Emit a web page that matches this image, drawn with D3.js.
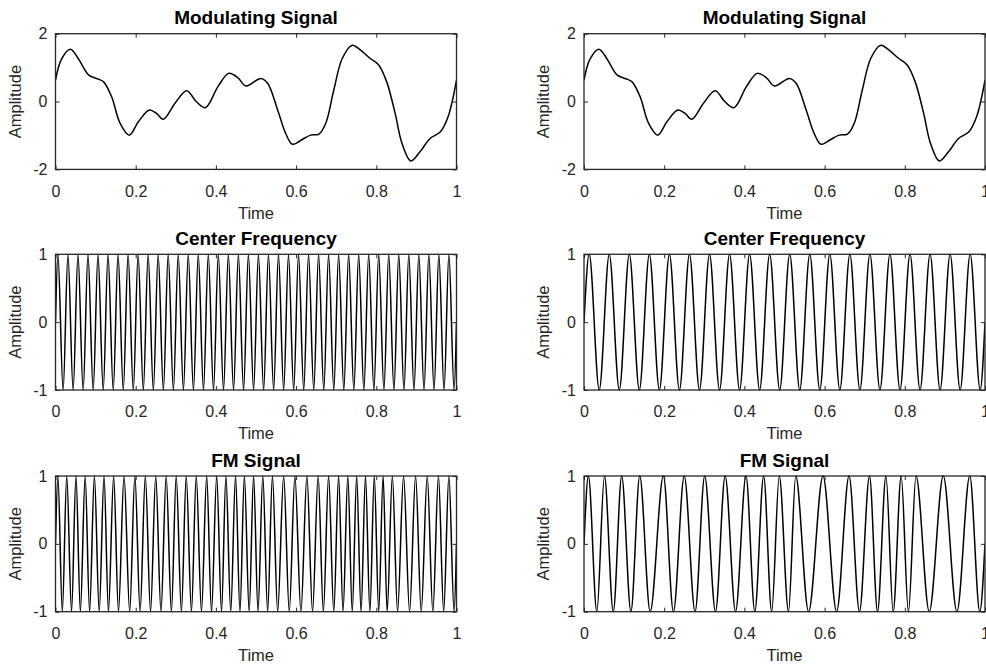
<!DOCTYPE html>
<html>
<head>
<meta charset="utf-8">
<script src="https://cdn.jsdelivr.net/npm/d3@7"></script>
<style>
  body { margin: 0; background: #fff; }
  svg { display: block; font-family: "Liberation Sans", Arial, sans-serif; }
</style>
</head>
<body>
<div id="chart"></div>
<script>
// modulating signal
const modTime = [0, 0.015, 0.037, 0.055, 0.066, 0.083, 0.107, 0.12, 0.14, 0.161, 0.184, 0.207, 0.234, 0.252, 0.269, 0.298, 0.327, 0.351, 0.374, 0.405, 0.432, 0.455, 0.475, 0.512, 0.529, 0.554, 0.574, 0.591, 0.612, 0.636, 0.657, 0.674, 0.694, 0.715, 0.74, 0.76, 0.785, 0.806, 0.826, 0.847, 0.864, 0.886, 0.909, 0.934, 0.96, 0.979, 1];
const modValue = [0.63, 1.25, 1.54, 1.3, 1.08, 0.78, 0.66, 0.58, 0.14, -0.64, -0.99, -0.59, -0.25, -0.35, -0.52, -0.05, 0.32, 0, -0.18, 0.44, 0.83, 0.7, 0.46, 0.68, 0.54, -0.25, -0.94, -1.26, -1.14, -0.99, -0.96, -0.64, 0.34, 1.27, 1.66, 1.52, 1.27, 1.08, 0.58, -0.35, -1.23, -1.75, -1.48, -1.09, -0.89, -0.45, 0.63];

// peak (+1) and trough (-1) times in ms
const carrierLeftPeaks = [6, 31, 56, 81, 106, 131, 156, 181, 206, 231, 256, 281, 306, 331, 356, 381, 406, 431, 456, 481, 506, 531, 556, 581, 606, 631, 656, 681, 706, 731, 756, 781, 806, 831, 856, 881, 906, 931, 956, 981];
const carrierLeftTroughs = [19, 44, 69, 94, 119, 144, 169, 194, 219, 244, 269, 294, 319, 344, 369, 394, 419, 444, 469, 494, 519, 544, 569, 594, 619, 644, 669, 694, 719, 744, 769, 794, 819, 844, 869, 894, 919, 944, 969, 994];

const carrierRightPeaks = [13, 63, 113, 163, 213, 263, 313, 363, 413, 463, 513, 563, 613, 663, 713, 763, 813, 863, 913, 963];
const carrierRightTroughs = [38, 88, 138, 188, 238, 288, 338, 388, 438, 488, 538, 588, 638, 688, 738, 788, 838, 888, 938, 988];

const fmLeftPeaks = [6, 28, 51, 74, 97, 121, 145, 171, 198, 224, 250, 276, 301, 326, 351, 377, 402, 425, 449, 471, 494, 517, 541, 569, 597, 627, 655, 681, 706, 729, 751, 773, 795, 817, 840, 868, 898, 927, 955, 981];
const fmLeftTroughs = [17, 40, 62, 85, 109, 132, 157, 185, 211, 237, 263, 289, 314, 339, 364, 389, 414, 437, 460, 483, 505, 529, 554, 583, 612, 641, 668, 694, 717, 740, 762, 784, 806, 827, 853, 883, 912, 941, 968, 994];

const fmRightPeaks = [11, 51, 94, 139, 198, 250, 301, 352, 404, 448, 487, 528, 596, 661, 712, 753, 791, 828, 896, 962];
const fmRightTroughs = [32, 73, 117, 165, 223, 277, 328, 378, 426, 468, 510, 560, 630, 687, 732, 771, 809, 861, 930, 987];

const xTicks = [0, 0.2, 0.4, 0.6, 0.8, 1];
const xTickLabels = ['0', '0.2', '0.4', '0.6', '0.8', '1'];
const modTicks = [-2, 0, 2];
const unitTicks = [-1, 0, 1];

const titles = ['Modulating Signal', 'Center Frequency', 'FM Signal'];

const w = 986;
const h = 668;

const svg = d3.select('#chart')
  .append('svg')
  .attr('width', w)
  .attr('height', h);

const toPoints = (peaks, troughs) => {
  const pts = [{ t: 0, v: 0 }];
  peaks.forEach(p => pts.push({ t: p / 1000, v: 1 }));
  troughs.forEach(p => pts.push({ t: p / 1000, v: -1 }));
  pts.push({ t: 1, v: 0 });
  return pts.sort((a, b) => a.t - b.t);
};

const modPoints = modTime.map((t, i) => ({ t, v: modValue[i] }));

const colLeft = [55.5, 584];
const axW = 401;
const rowTop = [33.7, 254.3, 476];
const axH = 135.7;

const panels = [
  { col: 0, row: 0, pts: modPoints, dom: [-2, 2], ticks: modTicks, curve: d3.curveCatmullRom.alpha(0.5) },
  { col: 0, row: 1, pts: toPoints(carrierLeftPeaks, carrierLeftTroughs), dom: [-1, 1], ticks: unitTicks, curve: d3.curveMonotoneX },
  { col: 0, row: 2, pts: toPoints(fmLeftPeaks, fmLeftTroughs), dom: [-1, 1], ticks: unitTicks, curve: d3.curveMonotoneX },
  { col: 1, row: 0, pts: modPoints, dom: [-2, 2], ticks: modTicks, curve: d3.curveCatmullRom.alpha(0.5) },
  { col: 1, row: 1, pts: toPoints(carrierRightPeaks, carrierRightTroughs), dom: [-1, 1], ticks: unitTicks, curve: d3.curveMonotoneX },
  { col: 1, row: 2, pts: toPoints(fmRightPeaks, fmRightTroughs), dom: [-1, 1], ticks: unitTicks, curve: d3.curveMonotoneX },
];

const axisColor = '#262626';

panels.forEach((p, i) => {
  const left = colLeft[p.col];
  const top = rowTop[p.row];
  const g = svg.append('g').attr('transform', `translate(${left},${top})`);

  const xScale = d3.scaleLinear().domain([0, 1]).range([0, axW]);
  const yScale = d3.scaleLinear().domain(p.dom).range([axH, 0]);

  const clipId = `clip${i}`;
  g.append('clipPath').attr('id', clipId)
    .append('rect').attr('x', 0).attr('y', -1).attr('width', axW).attr('height', axH + 2);

  const line = d3.line()
    .x(d => xScale(d.t))
    .y(d => yScale(d.v))
    .curve(p.curve);

  g.append('path')
    .datum(p.pts)
    .attr('clip-path', `url(#${clipId})`)
    .attr('fill', 'none')
    .attr('stroke', '#000')
    .attr('stroke-width', 1.5)
    .attr('d', line);

  const xAxis = d3.axisBottom(xScale).tickValues(xTicks)
    .tickFormat((d, j) => xTickLabels[j]).tickSize(-4).tickPadding(16);
  const xTop = d3.axisTop(xScale).tickValues(xTicks).tickFormat('').tickSize(-4);
  const yAxis = d3.axisLeft(yScale).tickValues(p.ticks).tickFormat(d => d).tickSize(-4).tickPadding(8);
  const yRight = d3.axisRight(yScale).tickValues(p.ticks).tickFormat('').tickSize(-4);

  g.append('g').attr('class', 'x-axis').attr('transform', `translate(0,${axH})`).call(xAxis);
  g.append('g').attr('class', 'x-top').call(xTop);
  g.append('g').attr('class', 'y-axis').call(yAxis);
  g.append('g').attr('class', 'y-right').attr('transform', `translate(${axW},0)`).call(yRight);

  g.selectAll('.domain').remove();
  g.selectAll('.tick line').attr('stroke', axisColor);
  g.selectAll('.tick text')
    .attr('fill', axisColor)
    .attr('font-size', 16)
    .attr('font-family', '"Liberation Sans", Arial, sans-serif');

  g.append('rect')
    .attr('width', axW)
    .attr('height', axH)
    .attr('fill', 'none')
    .attr('stroke', axisColor)
    .attr('stroke-width', 1.3);

  g.append('text')
    .attr('x', axW / 2)
    .attr('y', -9.5)
    .attr('text-anchor', 'middle')
    .attr('font-size', 19)
    .attr('font-weight', 'bold')
    .attr('fill', '#000')
    .text(titles[p.row]);

  g.append('text')
    .attr('x', axW / 2)
    .attr('y', axH + 49.5)
    .attr('text-anchor', 'middle')
    .attr('font-size', 16.5)
    .attr('fill', axisColor)
    .text('Time');

  g.append('text')
    .attr('transform', `translate(-35,${axH / 2})rotate(-90)`)
    .attr('text-anchor', 'middle')
    .attr('font-size', 16.5)
    .attr('fill', axisColor)
    .text('Amplitude');
});
</script>
</body>
</html>
